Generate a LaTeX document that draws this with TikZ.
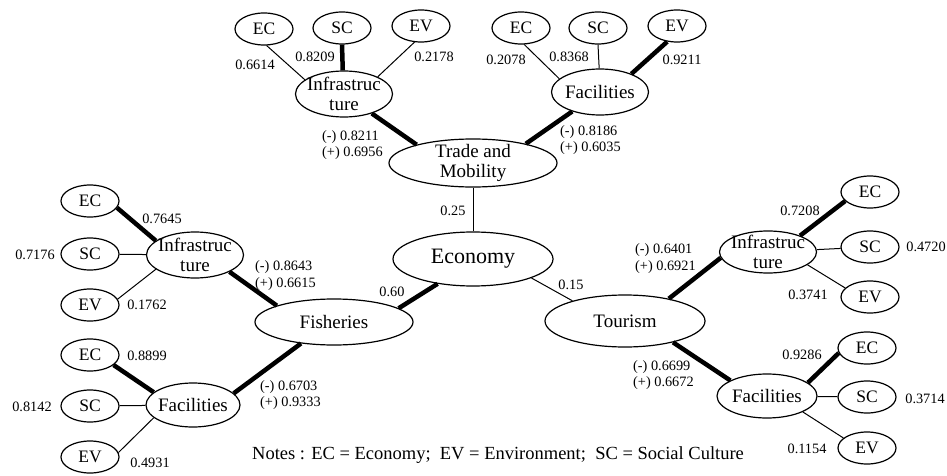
\documentclass[tikz,border=0pt]{standalone}
\usepackage{fontspec}
\setmainfont{Liberation Serif}
\usetikzlibrary{shapes.geometric}
\begin{document}
\begin{tikzpicture}[x=1pt,y=-1pt,
  ell/.style={ellipse, draw, line width=1.2pt, inner sep=0pt},
  leaf/.style={ell, minimum width=58pt, minimum height=32pt, font=\fontsize{17.5}{20}\selectfont},
  mid/.style={ell, minimum width=97pt, minimum height=46pt},
  midtext/.style={font=\fontsize{19}{20}\selectfont, align=center, inner sep=0pt},
  bigtext/.style={font=\fontsize{22}{24}\selectfont, align=center, inner sep=0pt},
  num/.style={font=\fontsize{14.3}{16}\selectfont, inner sep=0pt},
  pm/.style={num, anchor=west},
  weak/.style={line width=1pt},
  strong/.style={line width=4.5pt}]
\useasboundingbox (0,0) rectangle (947,476);

% main nodes
\node[ell, minimum width=160pt, minimum height=54pt, label={[bigtext]center:Economy}] (eco) at (473,259) {};
\node[ell, minimum width=168pt, minimum height=48pt, label={[midtext]center:Trade and\\Mobility}] (trade) at (473,163) {};
\node[ell, minimum width=158pt, minimum height=46pt, label={[midtext]center:Fisheries}] (fish) at (334,322) {};
\node[ell, minimum width=160pt, minimum height=52pt, label={[midtext]center:Tourism}] (tour) at (625,321) {};

% sub nodes
\node[mid, label={[midtext]center:Infrastruc\\ture}] (ti) at (344,94) {};
\node[mid, label={[midtext]center:Facilities}] (tf) at (600,92) {};
\node[mid, label={[midtext]center:Infrastruc\\ture}] (fi) at (195,255) {};
\node[mid, minimum width=94pt, minimum height=44pt, label={[midtext]center:Facilities}] (ff) at (193,405) {};
\node[mid, minimum height=42pt, label={[midtext]center:Infrastruc\\ture}] (ri) at (768,252) {};
\node[mid, minimum width=100pt, minimum height=44pt, label={[midtext]center:Facilities}] (rf) at (767,396) {};

% leaves
\node[leaf] (tlec) at (264,29) {EC};
\node[leaf] (tlsc) at (342,28) {SC};
\node[leaf] (tlev) at (421,26) {EV};
\node[leaf] (trec) at (521,28) {EC};
\node[leaf] (trsc) at (598,28) {SC};
\node[leaf] (trev) at (677,26) {EV};
\node[leaf] (liec) at (90,201) {EC};
\node[leaf] (lisc) at (90,254) {SC};
\node[leaf] (liev) at (90,305) {EV};
\node[leaf] (lfec) at (90,355) {EC};
\node[leaf] (lfsc) at (90,406) {SC};
\node[leaf] (lfev) at (90,457) {EV};
\node[leaf] (riec) at (870,192) {EC};
\node[leaf] (risc) at (870,247) {SC};
\node[leaf] (riev) at (870,297) {EV};
\node[leaf] (rfec) at (867,348) {EC};
\node[leaf] (rfsc) at (867,397) {SC};
\node[leaf] (rfev) at (867,448) {EV};

% main connectors
\draw[strong] (ti.-35) -- (trade.162);
\draw[strong] (tf.-145) -- (trade.20);
\draw[weak] (trade.south) -- (eco.north);
\draw[strong] (eco.-145) -- (fish.12);
\draw[weak] (eco.-18) -- (tour.159);
\draw[strong] (fi.-26) -- (fish.164);
\draw[strong] (ff.16) -- (fish.-147);
\draw[strong] (ri.187) -- (tour.27);
\draw[strong] (rf.157) -- (tour.-24);

% leaf connectors
\draw[weak] (tlec.-81) -- (ti.160);
\draw[strong] (tlsc.south) -- (ti.93);
\draw[weak] (tlev.248) -- (ti.27);
\draw[weak] (trec.-79) -- (tf.162);
\draw[weak] (trsc.south) -- (tf.92);
\draw[strong] (trev.238) -- (tf.30);
\draw[strong] (liec.-14) -- (fi.160);
\draw[weak] (lisc) -- (fi);
\draw[weak] (liev.12) -- (fi.200);
\draw[strong] (lfec.-23) -- (ff.162);
\draw[weak] (lfsc) -- (ff);
\draw[weak] (lfev.9) -- (ff.198);
\draw[strong] (riec.200) -- (ri.27);
\draw[weak] (risc) -- (ri);
\draw[weak] (ri.-18) -- (riev.160);
\draw[strong] (rfec.190) -- (rf.18);
\draw[weak] (rfsc) -- (rf);
\draw[weak] (rf.-24) -- (rfev.157);

% numbers
\node[num] (n1) at (255,65) {0.6614};
\node[num] (n2) at (315,57) {0.8209};
\node[num] (n3) at (434,57) {0.2178};
\node[pm] (n4) at (322,137) {(-) 0.8211};
\node[pm] (n5) at (322,153) {(+) 0.6956};
\node[num] (n6) at (506,60) {0.2078};
\node[num] (n7) at (569,57) {0.8368};
\node[num] (n8) at (682,60) {0.9211};
\node[pm] (n9) at (560,132) {(-) 0.8186};
\node[pm] (n10) at (560,148) {(+) 0.6035};
\node[num] (n11) at (162,219) {0.7645};
\node[num] (n12) at (35,255) {0.7176};
\node[num] (n13) at (147,305) {0.1762};
\node[pm] (n14) at (255,267) {(-) 0.8643};
\node[pm] (n15) at (255,284) {(+) 0.6615};
\node[num] (n16) at (147,356) {0.8899};
\node[num] (n17) at (32,407) {0.8142};
\node[num] (n18) at (150,463) {0.4931};
\node[pm] (n19) at (260,387) {(-) 0.6703};
\node[pm] (n20) at (260,403) {(+) 0.9333};
\node[num] (n21) at (453,211) {0.25};
\node[num] (n22) at (392,292) {0.60};
\node[num] (n23) at (571,285) {0.15};
\node[num] (n24) at (800,211) {0.7208};
\node[num] (n25) at (926,247) {0.4720};
\node[num] (n26) at (808,295) {0.3741};
\node[pm] (n27) at (635,250) {(-) 0.6401};
\node[pm] (n28) at (635,267) {(+) 0.6921};
\node[num] (n29) at (802,355) {0.9286};
\node[num] (n30) at (925,399) {0.3714};
\node[num] (n31) at (807,449) {0.1154};
\node[pm] (n32) at (633,367) {(-) 0.6699};
\node[pm] (n33) at (633,383) {(+) 0.6672};

\node[anchor=west, inner sep=0pt, font=\fontsize{18.5}{20}\selectfont] (notes) at (252,455) {Notes : EC = Economy;\ \ EV = Environment;\ \ SC = Social Culture};
\end{tikzpicture}
\end{document}
